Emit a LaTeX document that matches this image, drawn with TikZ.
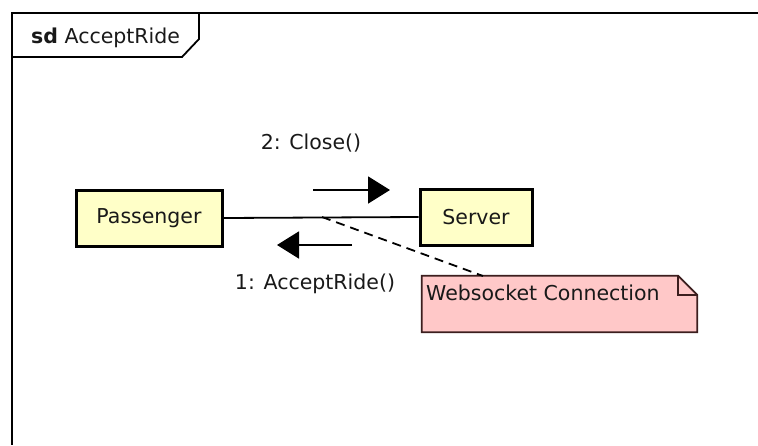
\documentclass[tikz,border=0pt]{standalone}
\usepackage{fontspec}
\setmainfont{DejaVu Sans}
\usetikzlibrary{arrows.meta}
\definecolor{boxyellow}{RGB}{255,255,200}
\definecolor{notepink}{RGB}{255,200,200}
\definecolor{noteline}{RGB}{60,30,30}
\definecolor{txt}{RGB}{25,25,25}
\tikzset{
  lifebox/.style={draw=black, line width=3pt, fill=boxyellow, minimum width=146pt, minimum height=56pt, inner sep=0pt, text=txt, font=\fontsize{20.5}{24}\selectfont},
  msg/.style={line width=1.8pt, -{Triangle[length=22pt,width=27pt]}},
  lbl/.style={font=\fontsize{20.5}{24}\selectfont, inner sep=0pt, text=txt},
}
\begin{document}
\begin{tikzpicture}[x=1pt,y=-1pt]
\useasboundingbox (0,0) rectangle (758,445);
\fill[white] (0,0) rectangle (758,445);
% frame
\draw[line width=1.8pt] (758,13) -- (12,13) -- (12,445);
\draw[line width=1.8pt] (12,57) -- (182,57) -- (199,39) -- (199,13);
\node[lbl, anchor=west] (title) at (31,38) {\textbf{sd} AcceptRide};
% lifelines
\node[lifebox] (P) at (149,218) {Passenger};
\node[lifebox, minimum width=112pt] (S) at (476,217) {Server};
\draw[line width=1.8pt] (P.east) -- (S.west);
% messages
\coordinate (m2s) at (313,190);
\coordinate (m2e) at (390,190);
\draw[msg] (m2s) -- (m2e);
\node[lbl] (m2) at (311,143) {2: Close()};
\coordinate (m1s) at (352,245);
\coordinate (m1e) at (277,245);
\draw[msg] (m1s) -- (m1e);
\node[lbl] (m1) at (315,284) {1: AcceptRide()};
% note
\node[minimum width=275pt, minimum height=56pt, inner sep=0pt] (N) at (559.5,304) {};
\fill[notepink] (N.north west) -- ([xshift=-19pt]N.north east) -- ([yshift=-19pt]N.north east) -- (N.south east) -- (N.south west) -- cycle;
\draw[noteline, line width=1.8pt] (N.north west) -- ([xshift=-19pt]N.north east) -- ([yshift=-19pt]N.north east) -- (N.south east) -- (N.south west) -- cycle;
\draw[noteline, line width=1.8pt] ([xshift=-19pt]N.north east) -- ([xshift=-19pt,yshift=-19pt]N.north east) -- ([yshift=-19pt]N.north east);
\node[lbl, anchor=west] (Nt) at (426,293) {Websocket Connection};
\coordinate (lk) at (322,217);
\draw[line width=1.8pt, dash pattern=on 9pt off 6pt] (lk) -- (483,276);
\end{tikzpicture}
\end{document}
